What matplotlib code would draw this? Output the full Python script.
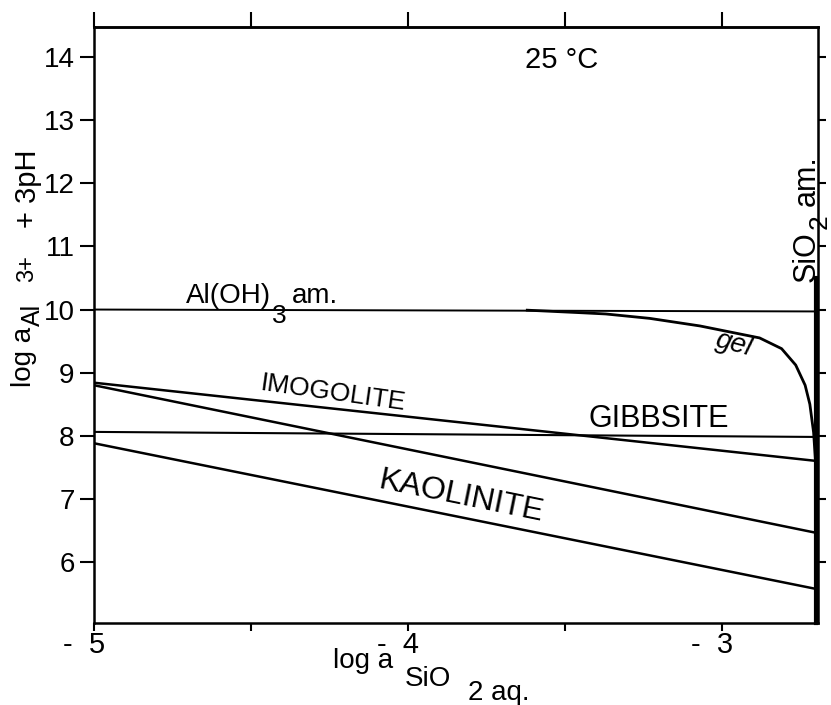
#
# Stability diagram: log a Al3+ + 3pH vs log a SiO2 aq. at 25 C
#
import numpy as np
import matplotlib
matplotlib.use('Agg')
import matplotlib.pyplot as plt
import matplotlib.transforms as mtrans

plt.rcParams['font.family'] = ['Liberation Sans', 'DejaVu Sans']
plt.rcParams['mathtext.fontset'] = 'custom'
plt.rcParams['mathtext.rm'] = 'Liberation Sans'

#############################################################
# data
x_ends = [-5.0, -2.70]
aloh3_y = [10.0, 9.97]
gibbsite_y = [8.06, 7.98]
imogolite_y = [8.84, 7.60]
kaolinite_upper_y = [8.80, 6.46]
kaolinite_lower_y = [7.88, 5.57]

gel_x = [-3.62, -3.45, -3.37, -3.23, -3.07, -2.88, -2.81, -2.765, -2.735, -2.72, -2.708, -2.702, -2.70]
gel_y = [9.99, 9.95, 9.93, 9.86, 9.74, 9.55, 9.38, 9.12, 8.80, 8.50, 8.05, 7.60, 7.20]

sio2_x = [-2.70, -2.70]
sio2_y = [10.5, 5.03]

xticks_major = [-5, -4, -3]
xticks_all = [-5, -4.5, -4, -3.5, -3]
xtick_labels = ['-  5', '-  4', '-  3']
yticks = [6, 7, 8, 9, 10, 11, 12, 13, 14]

#############################################################
W, H = 831, 705
fig = plt.figure(figsize=(W/100, H/100), dpi=100)
L, R, T, B = 94, 818, 27, 623
ax = fig.add_axes([L/W, 1-B/H, (R-L)/W, (B-T)/H])
ax.set_xlim(-5, -2.694)
ax.set_ylim(5.03, 14.48)

def fpx(x, y):
    # figure fraction from pixel position (top-left origin)
    return x/W, 1-y/H

LW = 1.8
ax.plot(x_ends, aloh3_y, color='k', lw=1.4)
ax.plot(x_ends, gibbsite_y, color='k', lw=1.5)
ax.plot(x_ends, imogolite_y, color='k', lw=LW)
ax.plot(x_ends, kaolinite_upper_y, color='k', lw=LW)
ax.plot(x_ends, kaolinite_lower_y, color='k', lw=LW)
ax.plot(gel_x, gel_y, color='k', lw=2.0)
ax.plot(sio2_x, sio2_y, color='k', lw=3.0, clip_on=False)

for s in ax.spines.values():
    s.set_linewidth(1.8)

# ticks: bottom/left labelled, top/right bare
ax.set_xticks(xticks_all)
ax.set_xticklabels(['' if v not in xticks_major else xtick_labels[xticks_major.index(v)]
                    for v in xticks_all])
ax.set_yticks(yticks)
ax.tick_params(axis='x', direction='out', length=6, width=1.5,
               labelsize=21, pad=0, top=False)
ax.tick_params(axis='y', direction='out', length=10, width=1.5,
               labelsize=20, pad=4, right=False)
sec = ax.secondary_xaxis('top')
sec.set_xticks(xticks_all)
sec.set_xticklabels([])
sec.tick_params(length=11, width=1.5, direction='out')
sec.spines['top'].set_linewidth(1.8)
secr = ax.secondary_yaxis('right')
secr.set_yticks(yticks)
secr.set_yticklabels([])
secr.tick_params(length=6, width=1.5, direction='out')

offset = mtrans.ScaledTranslation(8/72, 0, fig.dpi_scale_trans)
for lab in ax.get_xticklabels():
    lab.set_horizontalalignment('right')
    lab.set_transform(lab.get_transform() + offset)

#############################################################
# labels on the field
ax.text(-3.51, 13.96, '25 °C', fontsize=21, ha='center', va='center')
fig.text(*fpx(186, 303), 'Al(OH)', fontsize=20, ha='left', va='baseline')
fig.text(*fpx(272, 323), '3', fontsize=19, ha='left', va='baseline')
fig.text(*fpx(292, 303), 'am.', fontsize=20, ha='left', va='baseline')
ax.text(-4.24, 8.68, 'IMOGOLITE', fontsize=19, ha='center', va='center', rotation=-8)
ax.text(-3.20, 8.27, 'GIBBSITE', fontsize=22, ha='center', va='center')
ax.text(-3.83, 7.03, 'KAOLINITE', fontsize=23, ha='center', va='center', rotation=-11.5)
ax.text(-2.96, 9.45, 'gel', fontsize=20, ha='center', va='center', rotation=-15,
        style='italic')
rot = dict(ha='left', va='baseline', rotation=90, rotation_mode='anchor')
fig.text(*fpx(815, 282), 'SiO', fontsize=22, **rot)
fig.text(*fpx(827, 229), '2', fontsize=19, **rot)
fig.text(*fpx(815, 206), 'am.', fontsize=22, **rot)

# y axis title, pieced together
fig.text(*fpx(31, 387), 'log a', fontsize=20, **rot)
fig.text(*fpx(40, 326), 'Al', fontsize=18, **rot)
fig.text(*fpx(33, 282), '3+', fontsize=17, **rot)
fig.text(*fpx(36, 228), '+ 3pH', fontsize=21, **rot)

# x axis title, pieced together
fig.text(*fpx(333, 668), 'log a', fontsize=20, ha='left', va='baseline')
fig.text(*fpx(405, 686), 'SiO', fontsize=20, ha='left', va='baseline')
fig.text(*fpx(468, 700), '2 aq.', fontsize=20, ha='left', va='baseline')

plt.savefig('out.png', dpi=100)
